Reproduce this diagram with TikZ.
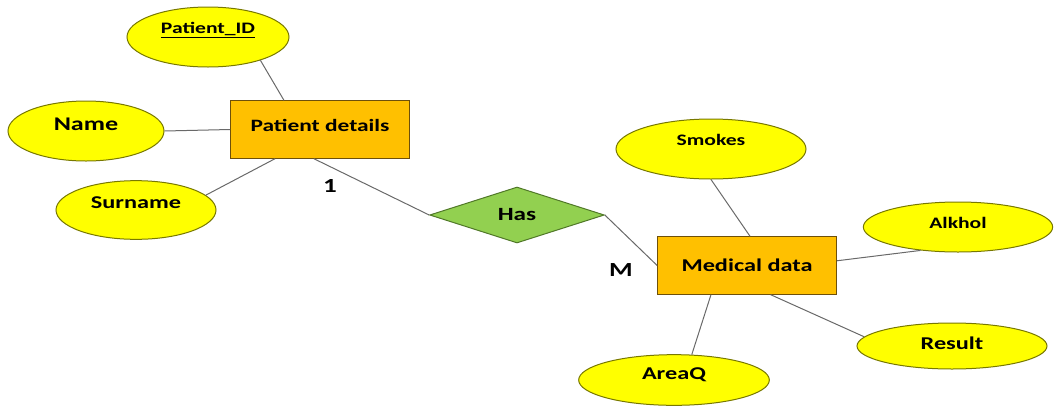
\documentclass[tikz,border=0pt]{standalone}
\usepackage{fontspec}
\setmainfont{Carlito}[FakeStretch=1.35]
\usetikzlibrary{shapes.geometric}

\definecolor{attrfill}{RGB}{255,255,0}
\definecolor{attrline}{RGB}{120,120,0}
\definecolor{entfill}{RGB}{255,192,0}
\definecolor{entline}{RGB}{110,80,10}
\definecolor{relfill}{RGB}{146,208,80}
\definecolor{relline}{RGB}{80,120,40}
\definecolor{linkline}{RGB}{105,105,105}

\newcommand{\fsz}[1]{\bfseries\fontsize{#1}{#1}\selectfont}

\tikzset{every picture/.style={line width=0.75pt}}
\tikzset{
  attr/.style={ellipse, draw=attrline, fill=attrfill, inner sep=0pt, text depth=9pt, font=\fsz{13.5}},
  entity/.style={rectangle, draw=entline, fill=entfill, minimum width=134pt, minimum height=43pt, font=\fsz{13.5}},
  relship/.style={diamond, draw=relline, fill=relfill, minimum width=131pt, minimum height=42pt, inner sep=0pt, font=\fsz{14}},
  link/.style={draw=linkline},
  card/.style={font=\fsz{15}}
}

\begin{document}
\begin{tikzpicture}[x=0.75pt,y=0.75pt,yscale=-1,xscale=1]
\path[use as bounding box] (0,0) rectangle (1054,408);

%Shape: Rectangle [entities]
\node[entity, text depth=6pt, font=\fsz{13}] (pd) at (320,129.5) {Patient details};
\node[entity] (md) at (747,265.5) {Medical data};
%Shape: Diamond [relationship]
\node[relship] (has) at (517,215) {Has};

%Shape: Ellipse [attributes]
\node[attr, minimum width=121.5pt, minimum height=45pt, text depth=13.5pt, font=\fsz{12}] (pid) at (208,37) {\underline{Patient\_ID}};
\node[attr, minimum width=117pt, minimum height=45pt, text depth=10pt, font=\fsz{14.5}] (name) at (86,131) {Name};
\node[attr, minimum width=120pt, minimum height=44pt, text depth=11pt] (surname) at (136,210) {Surname};
\node[attr, minimum width=142.5pt, minimum height=45pt, text depth=13.5pt, font=\fsz{12}] (smokes) at (711,149) {Smokes};
\node[attr, minimum width=142pt, minimum height=37.5pt, text depth=6pt, font=\fsz{12}] (alkhol) at (958,227) {Alkhol};
\node[attr, minimum width=142.5pt, minimum height=34.5pt, text depth=4.5pt] (result) at (952,346) {Result};
\node[attr, minimum width=143pt, minimum height=38pt, text depth=10pt] (areaq) at (674,380) {AreaQ};

%Straight Lines
\draw[link] (pid.-24) -- (pd.141);
\draw[link] (name.east) -- (pd.west);
\draw[link] (surname.12) -- (pd.-147);
\draw[link] (pd.-102) -- (has.west);
\draw[link] (has.east) -- (md.west);
\draw[link] (smokes.south) -- (md.84);
\draw[link] (md.3.5) -- (alkhol.-148);
\draw[link] (md.-51) -- (result.174);
\draw[link] (md.-141) -- (areaq.55);

% Text Node
\node[card] (one) at (330,186) {1};
% Text Node
\node[card] (many) at (621,270) {M};

\end{tikzpicture}
\end{document}
